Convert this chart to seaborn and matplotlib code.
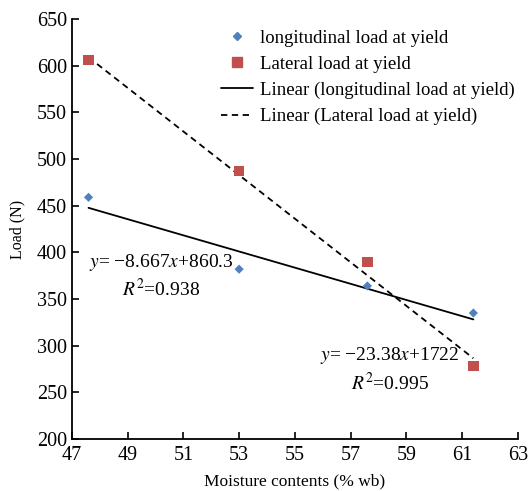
import numpy as np
import pandas as pd
import seaborn as sns
import matplotlib
matplotlib.use("Agg")
import matplotlib.pyplot as plt
from matplotlib.lines import Line2D

moisture = [47.6, 53.0, 57.6, 61.4]
longitudinal = [459, 382, 364, 335]
lateral = [606, 487, 390, 278]
long_coef = (-8.667, 860.3)
lat_coef = (-23.38, 1722)
long_r2 = 0.938
lat_r2 = 0.995
xticks = [47, 49, 51, 53, 55, 57, 59, 61, 63]
yticks = [200, 250, 300, 350, 400, 450, 500, 550, 600, 650]

sns.set_style("ticks")
plt.rcParams['font.family'] = ['Liberation Serif', 'DejaVu Serif']
plt.rcParams['mathtext.fontset'] = 'stix'
plt.rcParams['text.color'] = 'black'
plt.rcParams['axes.labelcolor'] = 'black'

fig = plt.figure(figsize=(5.28, 4.91), dpi=100)
ax = fig.add_axes([0.136, 0.106, 0.845, 0.855])

df = pd.DataFrame({"x": moisture, "long": longitudinal, "lat": lateral})
xs = np.array([min(moisture), max(moisture)])
ax.plot(xs, long_coef[0] * xs + long_coef[1], color='black', lw=1.3, zorder=2)
ax.plot(xs, lat_coef[0] * xs + lat_coef[1], color='black', lw=1.3,
        ls=(0, (3.5, 2.5)), zorder=2)
sns.scatterplot(data=df, x="x", y="long", marker='D', s=22, color='#4f81bd',
                edgecolor='none', ax=ax, zorder=3)
sns.scatterplot(data=df, x="x", y="lat", marker='s', s=55, color='#c0504d',
                edgecolor='none', ax=ax, zorder=3)

ax.set_xlim(47, 63)
ax.set_ylim(200, 650)
ax.set_xticks(xticks)
ax.set_yticks(yticks)
ax.tick_params(direction='in', length=5, width=1.2, labelsize=14.5,
               colors='black')
ax.tick_params(axis='x', pad=5)
for s in ['left', 'bottom']:
    ax.spines[s].set_linewidth(1.3)
    ax.spines[s].set_color('black')
sns.despine(ax=ax)
ax.set_xlabel("Moisture contents (% wb)", fontsize=12.5, labelpad=6)
ax.set_ylabel("Load (N)", fontsize=11.5, labelpad=8)

ax.text(50.2, 389, rf"$y$= −{abs(long_coef[0])}$x$+{long_coef[1]}", fontsize=14,
        ha='center', va='center')
ax.text(50.2, 361, rf"$R^2$=0{str(long_r2)[1:]}", fontsize=14, ha='center',
        va='center')
ax.text(58.4, 289, rf"$y$= −{abs(lat_coef[0])}$x$+{lat_coef[1]}", fontsize=14,
        ha='center', va='center')
ax.text(58.4, 260, rf"$R^2$=0{str(lat_r2)[1:]}", fontsize=14, ha='center',
        va='center')

handles = [
    Line2D([], [], marker='D', ls='none', color='#4f81bd', markersize=4.5),
    Line2D([], [], marker='s', ls='none', color='#c0504d', markersize=7),
    Line2D([], [], color='black', lw=1.3),
    Line2D([], [], color='black', lw=1.3, ls=(0, (3.5, 2.5))),
]
labels = ["longitudinal load at yield", "Lateral load at yield",
          "Linear (longitudinal load at yield)", "Linear (Lateral load at yield)"]
ax.legend(handles, labels, loc='upper right', bbox_to_anchor=(1.0, 0.982),
          frameon=False, fontsize=13.5, handlelength=1.7, handletextpad=0.4,
          labelspacing=0.48, borderaxespad=-0.25)

fig.savefig("out.png", dpi=100)
